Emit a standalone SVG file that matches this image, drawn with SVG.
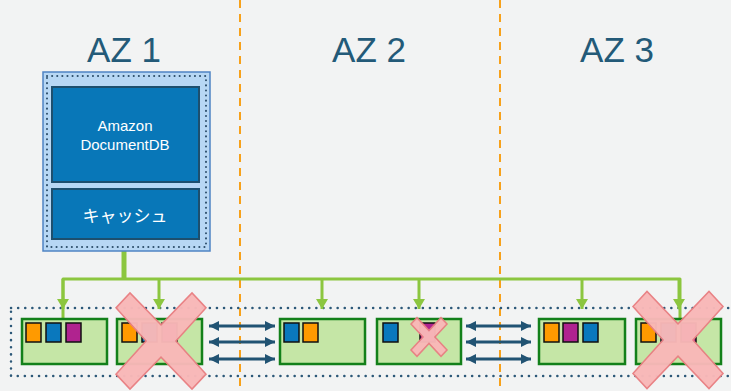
<svg xmlns="http://www.w3.org/2000/svg" width="731" height="391" viewBox="0 0 731 391">
<defs>
<style>
.az{font-family:"Liberation Sans",Arial,sans-serif;font-size:35px;fill:#235a78;text-anchor:middle}
.wt{font-family:"Liberation Sans","Noto Sans CJK JP",sans-serif;fill:#ffffff;text-anchor:middle}
.zone{stroke:#f7a11a;stroke-width:2;stroke-dasharray:8 6;fill:none}
.node{fill:#c5e6a6;stroke:#13801a;stroke-width:2.5}
.sq{stroke:#111;stroke-width:1.5}
.o{fill:#ff9a00}.b{fill:#0a78bd}.p{fill:#b0238f}
.feed{stroke:#8cc63f;fill:none}
.rep{stroke:#215373;stroke-width:3;fill:none;marker-start:url(#ah2);marker-end:url(#ah2)}
.x{fill:#f9b8b8;stroke:#e97f82;stroke-width:1.5;opacity:0.97}
</style>
<marker id="ah" viewBox="0 0 10 10" refX="5" refY="10" markerWidth="11" markerHeight="10" markerUnits="userSpaceOnUse" orient="auto-start-reverse">
<path d="M0,0 L10,0 L5,10 z" fill="#8cc63f" transform="rotate(-90 5 5)"/>
</marker>
<marker id="ah2" viewBox="0 0 10 10" refX="10" refY="5" markerWidth="10" markerHeight="10" markerUnits="userSpaceOnUse" orient="auto-start-reverse">
<path d="M0,0 L10,5 L0,10 z" fill="#215373"/>
</marker>
<marker id="ga" viewBox="0 0 12 10" refX="6" refY="10" markerWidth="12" markerHeight="10" markerUnits="userSpaceOnUse" orient="0">
<path d="M0,0 L12,0 L6,10 z" fill="#8cc63f"/>
</marker>
</defs>
<rect width="731" height="391" fill="#f2f3f3"/>
<line class="zone" x1="240" y1="0" x2="240" y2="391"/>
<line class="zone" x1="500" y1="0" x2="500" y2="391"/>
<text class="az" x="124" y="62">AZ 1</text>
<text class="az" x="369" y="62">AZ 2</text>
<text class="az" x="617" y="62">AZ 3</text>

<rect x="11" y="308" width="722" height="68" fill="none" stroke="#2c5878" stroke-width="2.5" stroke-dasharray="0.1 7" stroke-linecap="round"/>

<g id="connectors">
<line class="feed" x1="124" y1="240" x2="124" y2="280" stroke-width="5"/>
<polyline class="feed" points="63,318 63,279 680,279 680,318" stroke-width="3" stroke-linejoin="round"/>
<line class="feed" x1="63" y1="279" x2="63" y2="309" stroke-width="3" marker-end="url(#ga)"/>
<line class="feed" x1="159" y1="279" x2="159" y2="309" stroke-width="3" marker-end="url(#ga)"/>
<line class="feed" x1="322" y1="279" x2="322" y2="309" stroke-width="3" marker-end="url(#ga)"/>
<line class="feed" x1="419" y1="279" x2="419" y2="309" stroke-width="3" marker-end="url(#ga)"/>
<line class="feed" x1="582" y1="279" x2="582" y2="309" stroke-width="3" marker-end="url(#ga)"/>
<line class="feed" x1="679" y1="279" x2="679" y2="309" stroke-width="3" marker-end="url(#ga)"/>
<line class="rep" x1="209" y1="326" x2="275" y2="326"/>
<line class="rep" x1="209" y1="342" x2="275" y2="342"/>
<line class="rep" x1="209" y1="359" x2="275" y2="359"/>
<line class="rep" x1="466" y1="326" x2="531" y2="326"/>
<line class="rep" x1="466" y1="342" x2="531" y2="342"/>
<line class="rep" x1="466" y1="359" x2="531" y2="359"/>
</g>

<g id="docdb">
<rect x="43" y="72" width="167" height="179" fill="#b7d7f4" stroke="#4f84c4" stroke-width="1.5"/>
<rect x="47" y="76" width="159" height="171" fill="none" stroke="#2c4e6a" stroke-width="2" stroke-dasharray="0.1 5" stroke-linecap="round"/>
<rect x="52" y="87" width="147" height="95" fill="#0877b8" stroke="#1d4f6e" stroke-width="2"/>
<text class="wt" x="125" y="131" font-size="15">Amazon</text>
<text class="wt" x="125" y="150" font-size="15">DocumentDB</text>
</g>
<g id="cache">
<rect x="52" y="189" width="147" height="50" fill="#0877b8" stroke="#1d4f6e" stroke-width="2"/>
<text class="wt" x="125" y="222" font-size="17">キャッシュ</text>
</g>

<g id="node1">
<rect class="node" x="22" y="319" width="85" height="45"/>
<rect class="sq o" x="26" y="323" width="15" height="19"/>
<rect class="sq b" x="46" y="323" width="15" height="19"/>
<rect class="sq p" x="66" y="323" width="15" height="19"/>
</g>
<g id="node2">
<rect class="node" x="117" y="319" width="85" height="45"/>
<rect class="sq o" x="122" y="323" width="15" height="19"/>
<rect class="sq b" x="142" y="323" width="15" height="19"/>
<rect class="sq p" x="162" y="323" width="15" height="19"/>
<path class="x" transform="translate(161 341) scale(1 1.07)" d="M-45,-31 L-31,-45 L0,-15 L31,-45 L45,-31 L15,0 L45,31 L31,45 L0,15 L-31,45 L-45,31 L-15,0 Z"/>
</g>
<g id="node3">
<rect class="node" x="280" y="319" width="85" height="45"/>
<rect class="sq b" x="284" y="323" width="15" height="19"/>
<rect class="sq o" x="303" y="323" width="15" height="19"/>
</g>
<g id="node4">
<rect class="node" x="377" y="319" width="84" height="45"/>
<rect class="sq b" x="383" y="323" width="15" height="19"/>
<rect class="sq p" x="420" y="323" width="15" height="19"/>
<path class="x" transform="translate(429 337) scale(1 1.08)" d="M-18,-12 L-12,-18 L0,-6 L12,-18 L18,-12 L6,0 L18,12 L12,18 L0,6 L-12,18 L-18,12 L-6,0 Z"/>
</g>
<g id="node5">
<rect class="node" x="539" y="319" width="86" height="45"/>
<rect class="sq o" x="544" y="323" width="15" height="19"/>
<rect class="sq p" x="563" y="323" width="15" height="19"/>
<rect class="sq b" x="583" y="323" width="15" height="19"/>
</g>
<g id="node6">
<rect class="node" x="636" y="319" width="85" height="45"/>
<rect class="sq o" x="641" y="323" width="15" height="19"/>
<rect class="sq b" x="661" y="323" width="15" height="19"/>
<rect class="sq p" x="681" y="323" width="15" height="19"/>
<path class="x" transform="translate(678 340) scale(1 1.08)" d="M-45,-31 L-31,-45 L0,-15 L31,-45 L45,-31 L15,0 L45,31 L31,45 L0,15 L-31,45 L-45,31 L-15,0 Z"/>
</g>
</svg>
